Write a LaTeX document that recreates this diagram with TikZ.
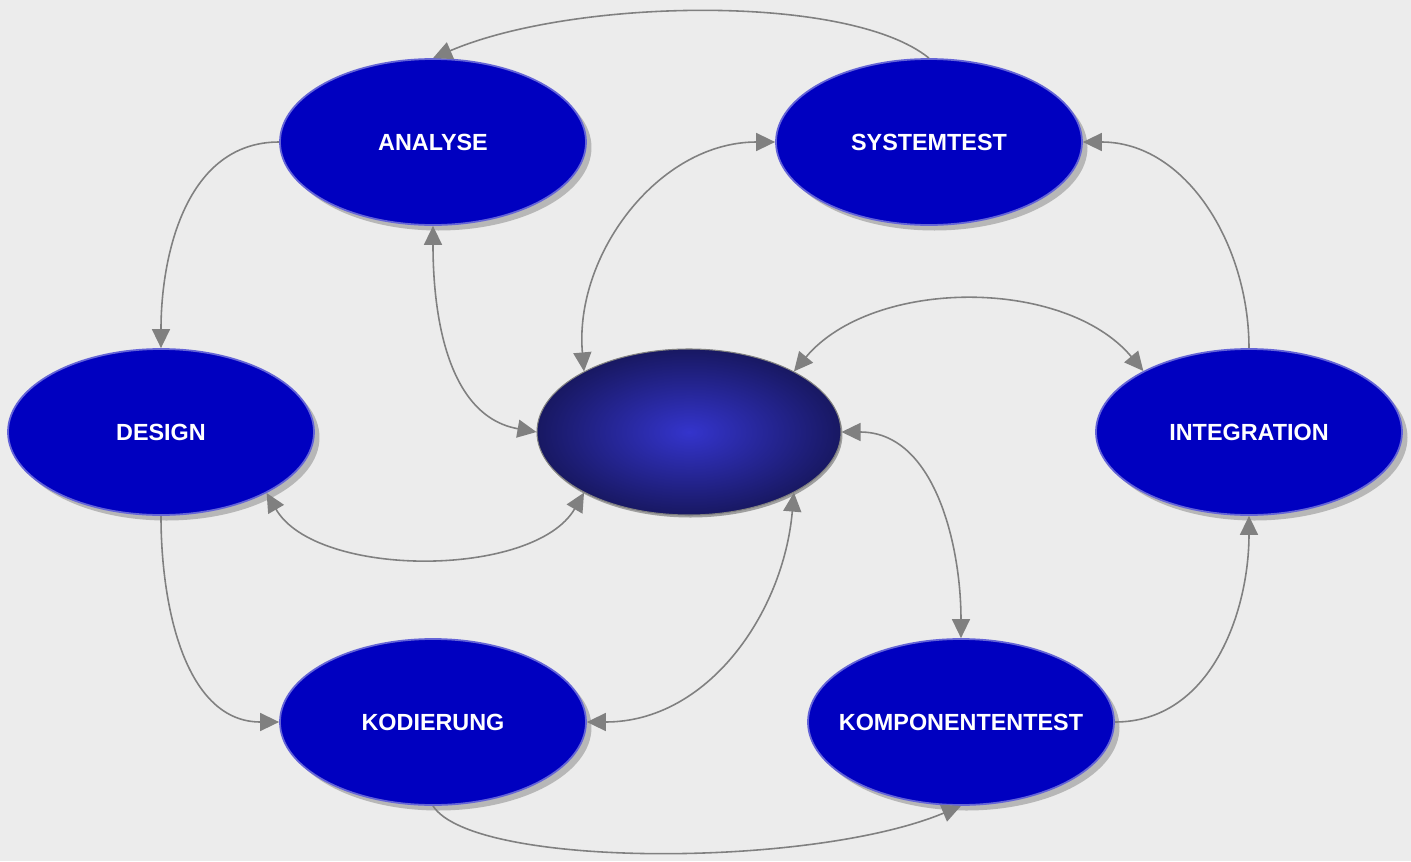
\documentclass[tikz,border=0pt]{standalone}
\usepackage{fontspec}
\setmainfont{Liberation Sans}
\usepackage{tikz}
\usetikzlibrary{arrows.meta,shapes,positioning,shadows}
\usepackage{xcolor}
\definecolor{bgcol}{RGB}{236,236,236}
\definecolor{phaseblue}{RGB}{0,0,192}
\definecolor{phaseedge}{RGB}{100,100,215}
\definecolor{hubinner}{RGB}{52,52,204}
\definecolor{hubouter}{RGB}{24,24,98}
\definecolor{linkgray}{RGB}{128,128,128}
\tikzstyle{flow} = [line width=0.9pt,->,>={Triangle[length=0.38cm,width=0.36cm]},color=linkgray]
\tikzstyle{twoway} = [flow,<->]
\tikzstyle{phase} = [ellipse, minimum width=6.12cm, minimum height=3.32cm, inner sep=0pt, text centered, draw=phaseedge, fill=phaseblue, line width=1pt, text=white, font=\fontsize{13.3}{16}\selectfont\bfseries, drop shadow={shadow xshift=0.11cm, shadow yshift=-0.11cm, fill=black!30, opacity=0.9}]

\begin{document}
\begin{tikzpicture}[node distance=5.8cm]
\useasboundingbox[fill=bgcol] (-13.78,-8.58) rectangle (14.44,8.64);
\node (hub) [ellipse, minimum width=6.08cm, minimum height=3.32cm, draw=linkgray, line width=0.6pt, inner color=hubinner, outer color=hubouter, drop shadow={shadow xshift=0.03cm, shadow yshift=-0.05cm, fill=black!45, opacity=0.8}] {};
\node (analyse) [phase, above of=hub, xshift=-5.12cm] {ANALYSE};
\node (systemtest) [phase, above of=hub, xshift=4.8cm] {SYSTEMTEST};
\node (design) [phase, left of=hub, node distance=10.56cm] {DESIGN};
\node (integration) [phase, right of=hub, node distance=11.2cm] {INTEGRATION};
\node (kodierung) [phase, below of=hub, xshift=-5.12cm] {KODIERUNG};
\node (komponententest) [phase, below of=hub, xshift=5.44cm] {\makebox[0pt]{KOMPONENTENTEST}};

% outer cycle
\draw[flow] (systemtest.north) .. controls +(-1.6,1.3) and +(2.8,1.2) .. (analyse.north);
\draw[flow] (analyse.west) to[out=180, in=90] (design.north);
\draw[flow] (design.south) to[out=270, in=180] (kodierung.west);
\draw[flow] (kodierung.south) .. controls +(0.8,-1.25) and +(-3,-1.25) .. (komponententest.south);
\draw[flow] (komponententest.east) to[out=0, in=270] (integration.south);
\draw[flow] (integration.north) to[out=90, in=0] (systemtest.east);

% links to the hub
\draw[twoway] (analyse.south) to[out=270, in=170] (hub.west);
\draw[twoway] (systemtest.west) to[out=180, in=95] (hub.150);
\draw[twoway] (hub.30) to[out=50, in=130, looseness=0.9] (integration.150);
\draw[twoway] (hub.east) to[out=0, in=90] (komponententest.north);
\draw[twoway] (hub.-30) to[out=265, in=0] (kodierung.east);
\draw[twoway] (design.-30) to[out=-60, in=-120, looseness=0.8] (hub.-150);
\end{tikzpicture}
\end{document}
